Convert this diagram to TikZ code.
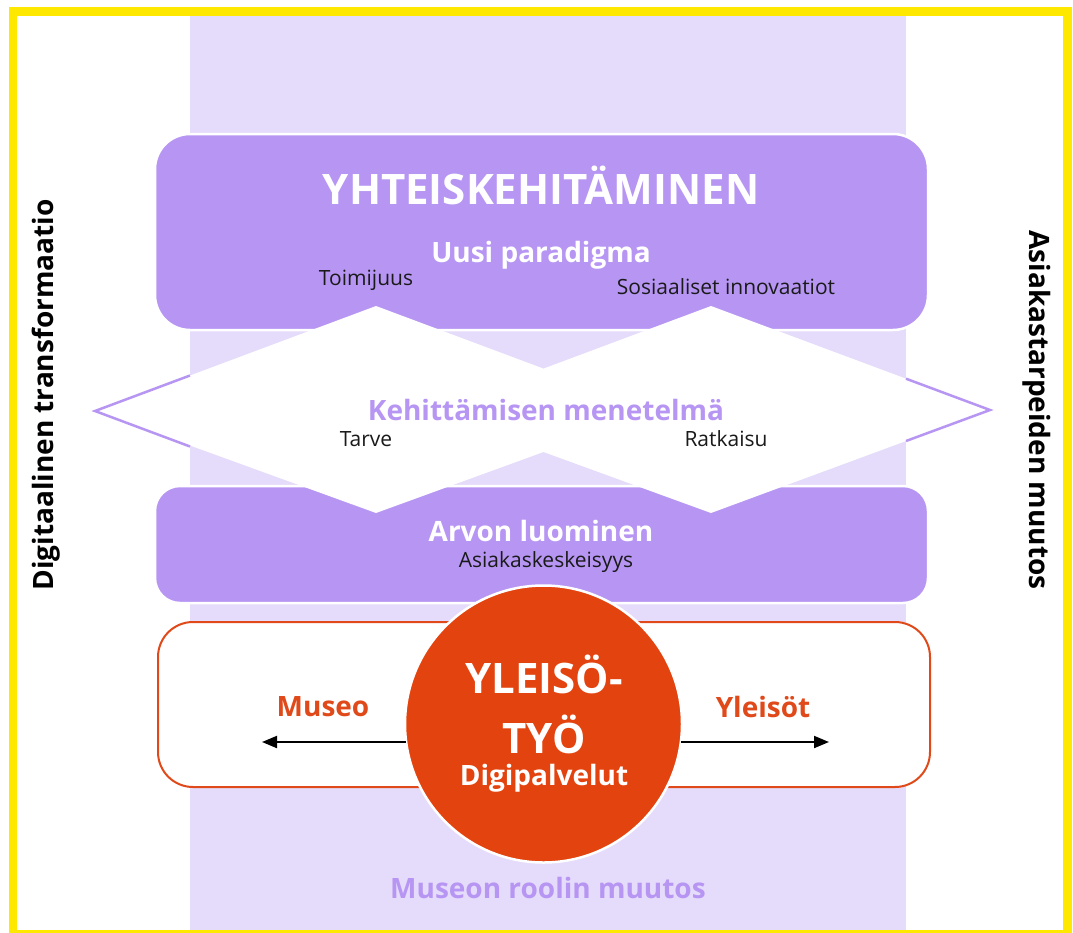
\documentclass[tikz,border=0pt]{standalone}
\usepackage{fontspec}
\setmainfont{Open Sans}
\usetikzlibrary{arrows.meta}
\definecolor{frameyellow}{HTML}{FFE800}
\definecolor{lavender}{HTML}{E5DBFA}
\definecolor{violet}{HTML}{B796F3}
\definecolor{rust}{HTML}{E3440F}
\definecolor{rusttext}{HTML}{E04A1A}
\definecolor{ink}{HTML}{1A1A1A}
\tikzset{
  band/.style={fill=violet, draw=white, line width=2.5pt},
  heading/.style={font=\bfseries\fontsize{42}{46}\selectfont, text=white, inner sep=0pt},
  subhead/.style={font=\bfseries\fontsize{28}{32}\selectfont, text=white, inner sep=0pt},
  tag/.style={font=\fontsize{21}{25}\selectfont, text=ink, inner sep=0pt},
  violettext/.style={font=\bfseries\fontsize{28}{32}\selectfont, text=violet, inner sep=0pt},
  rustlabel/.style={font=\bfseries\fontsize{28}{32}\selectfont, text=rusttext, inner sep=0pt},
  sidetext/.style={font=\bfseries\fontsize{28}{32}\selectfont, text=black, inner sep=0pt},
  flow/.style={draw=black, line width=2pt, -{Triangle[length=15pt,width=12pt]}},
  tipline/.style={draw=violet, line width=2.5pt, line join=miter}
}
\begin{document}
\begin{tikzpicture}[x=1pt,y=-1pt]
\useasboundingbox (0,0) rectangle (1073,932);
\fill[white] (0,0) rectangle (1073,932);

% central column
\fill[lavender] (190,16) rectangle (906,930);

% outer frame
\draw[frameyellow, line width=8.5pt] (13,11.5) rectangle (1067.5,934);

% co-development band
\path[band, rounded corners=35pt] (155,134) rectangle (928,330);
% value creation band
\path[band, rounded corners=25pt] (155,486) rectangle (928,603);

% double diamond of the development method
\fill[white] (95,411) -- (376,306) -- (543.5,368.6) -- (711,306) -- (990,410)
  -- (711,513) -- (543.5,452) -- (376,513) -- cycle;
\draw[tipline] (190,375.5) -- (95,411) -- (190,446.5);
\draw[tipline] (906,378.7) -- (990,410) -- (906,441);

% audience work frame
\draw[rusttext, line width=2pt, fill=white, rounded corners=35pt] (158,622) rectangle (930,787);

% audience work hub
\node[circle, fill=rust, draw=white, line width=2.5pt, minimum size=277pt, inner sep=0pt] (hub) at (543.5,724) {};
\coordinate (museoEnd) at (262,742);
\coordinate (yleisotEnd) at (829,742);
\draw[flow] ([shift={(-137.5,18)}]hub.center) -- (museoEnd);
\draw[flow] ([shift={(137.5,18)}]hub.center) -- (yleisotEnd);

% texts
\node[heading] (yht) at (541,185) {YHTEISKEHITÄMINEN};
\node[subhead] (uusi) at (541,255) {Uusi paradigma};
\node[tag] (toim) at (366,280) {Toimijuus};
\node[tag] (sos) at (726,287) {Sosiaaliset innovaatiot};
\node[violettext] (keh) at (546,410) {Kehittämisen menetelmä};
\node[tag] (tarve) at (366,439) {Tarve};
\node[tag] (ratk) at (726,439) {Ratkaisu};
\node[subhead] (arvo) at (541,531) {Arvon luominen};
\node[tag] (asiak) at (546,562) {Asiakaskeskeisyys};
\node[heading] (yl1) at (544,674) {YLEISÖ-};
\node[heading] (yl2) at (544,734) {TYÖ};
\node[subhead] (digi) at (544,778) {Digipalvelut};
\node[rustlabel] (museo) at (323,707) {Museo};
\node[rustlabel] (yleisot) at (763,707) {Yleisöt};
\node[violettext] (rooli) at (548,888) {Museon roolin muutos};
\node[sidetext, rotate=90] (digit) at (46,395) {Digitaalinen transformaatio};
\node[sidetext, rotate=-90] (asiakt) at (1037,410) {Asiakastarpeiden muutos};
\end{tikzpicture}
\end{document}
